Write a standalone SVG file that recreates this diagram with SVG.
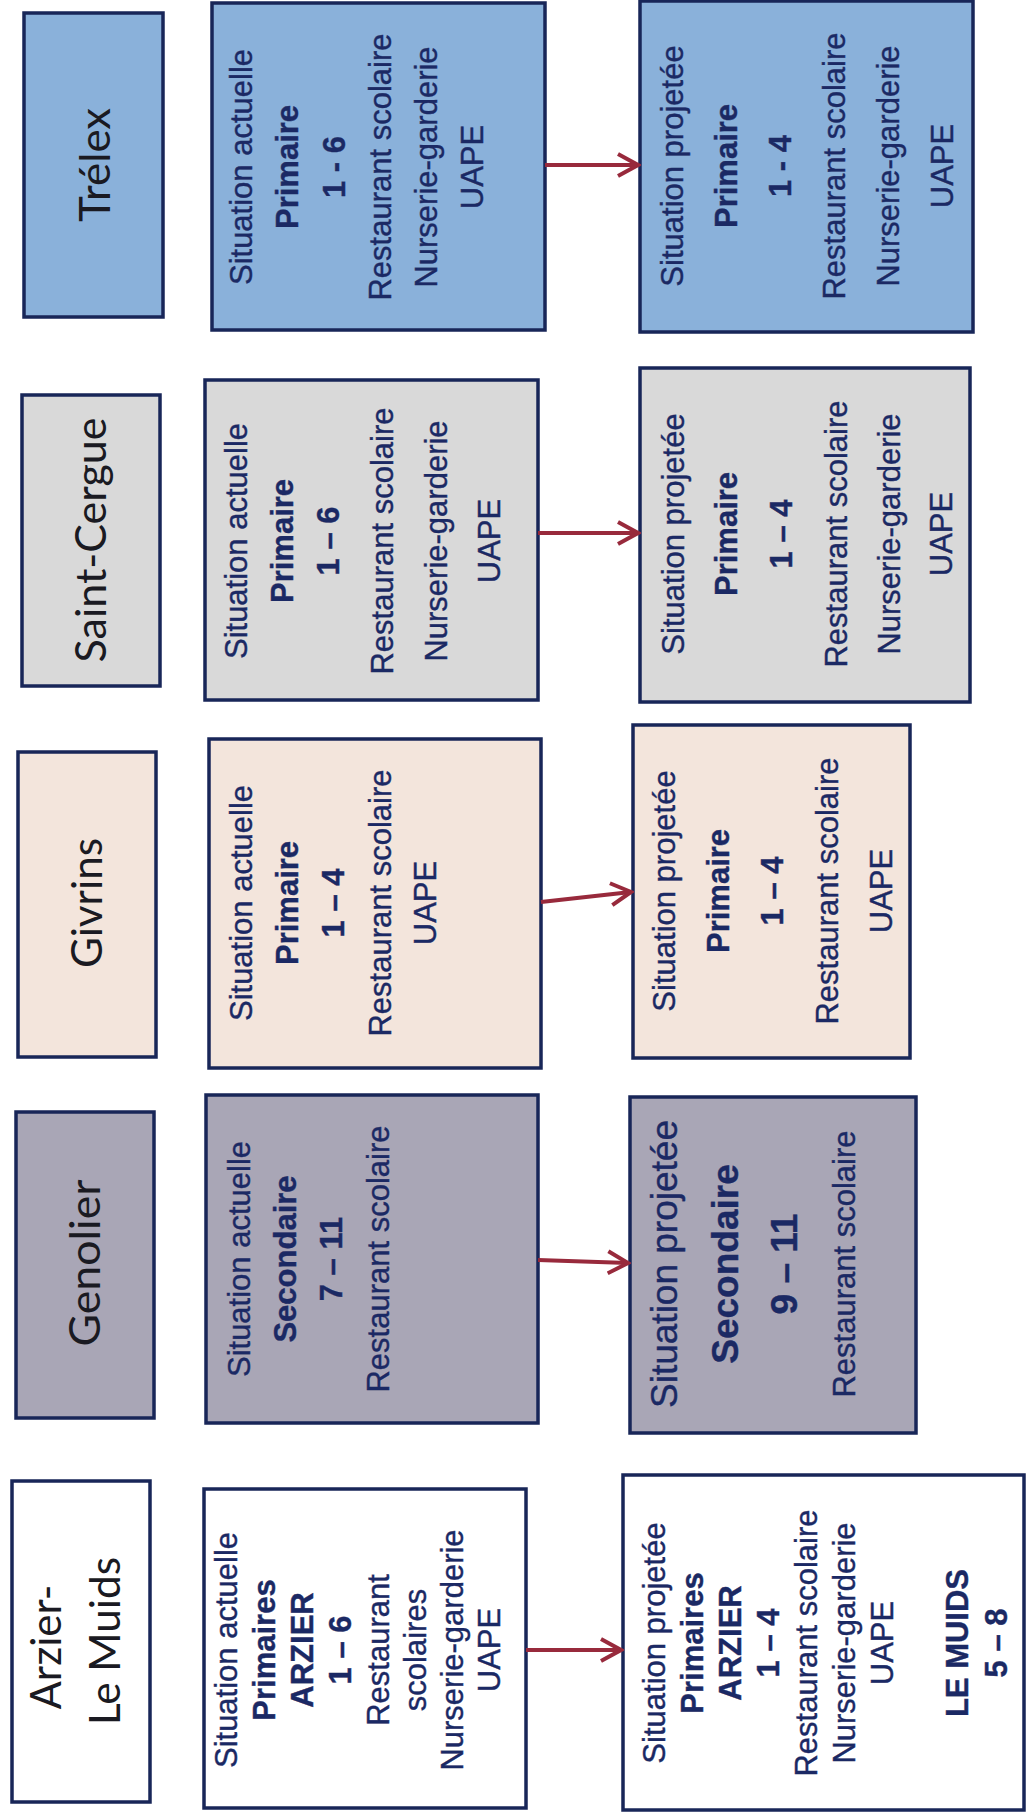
<svg xmlns="http://www.w3.org/2000/svg" width="1026" height="1814" viewBox="0 0 1026 1814">
  <defs>
    <style>
      .box { stroke: #182658; stroke-width: 3.5; }
      .trelex { fill: #8ab1da; }
      .cergue { fill: #d9d9d9; }
      .givrins { fill: #f3e5dc; }
      .genolier { fill: #a9a6b6; }
      .arzier { fill: #ffffff; }
      .hdr text { font-family: Lato, "Liberation Sans", sans-serif; font-size: 42px; fill: #1a1a22; text-anchor: middle; }
      .txt text { font-family: "Liberation Sans", Arial, sans-serif; font-size: 31px; fill: #1b2964; stroke: #1b2964; stroke-width: 0.4; text-anchor: middle; }
      .txt .b { font-weight: bold; }
      .txt .big { font-size: 37px; }
      .link { stroke: #982a3c; stroke-width: 4; fill: none; marker-end: url(#chevron); }
    </style>
    <marker id="chevron" viewBox="0 0 24 26" markerWidth="24" markerHeight="26" refX="21" refY="13" orient="auto" markerUnits="userSpaceOnUse">
      <path d="M1,2 L21,13 L1,24" fill="none" stroke="#982a3c" stroke-width="4" stroke-linejoin="miter"/>
    </marker>
  </defs>

  <rect width="1026" height="1814" fill="#ffffff"/>

  <!-- Trélex -->
  <g id="trelex-header" class="hdr">
    <rect class="box trelex" x="24" y="13" width="139" height="304"/>
    <g transform="translate(0,165) rotate(-90)"><text y="110" textLength="114" lengthAdjust="spacingAndGlyphs">Trélex</text></g>
  </g>
  <g id="trelex-actuelle" class="txt">
    <rect class="box trelex" x="212" y="3" width="333" height="327"/>
    <g transform="translate(0,167) rotate(-90)">
      <text y="252">Situation actuelle</text>
      <text y="298" class="b">Primaire</text>
      <text y="345" class="b">1 - 6</text>
      <text y="391">Restaurant scolaire</text>
      <text y="437">Nurserie-garderie</text>
      <text y="483">UAPE</text>
    </g>
  </g>
  <g id="trelex-projetee" class="txt">
    <rect class="box trelex" x="640" y="1" width="333" height="331"/>
    <g transform="translate(0,166) rotate(-90)">
      <text y="683">Situation projetée</text>
      <text y="737" class="b">Primaire</text>
      <text y="791" class="b">1 - 4</text>
      <text y="845">Restaurant scolaire</text>
      <text y="899">Nurserie-garderie</text>
      <text y="953">UAPE</text>
    </g>
  </g>

  <!-- Saint-Cergue -->
  <g id="cergue-header" class="hdr">
    <rect class="box cergue" x="22" y="395" width="138" height="291"/>
    <g transform="translate(0,540) rotate(-90)"><text y="106" textLength="245" lengthAdjust="spacingAndGlyphs">Saint-Cergue</text></g>
  </g>
  <g id="cergue-actuelle" class="txt">
    <rect class="box cergue" x="205" y="380" width="333" height="320"/>
    <g transform="translate(0,541) rotate(-90)">
      <text y="247">Situation actuelle</text>
      <text y="293" class="b">Primaire</text>
      <text y="339" class="b">1 – 6</text>
      <text y="393">Restaurant scolaire</text>
      <text y="447">Nurserie-garderie</text>
      <text y="500">UAPE</text>
    </g>
  </g>
  <g id="cergue-projetee" class="txt">
    <rect class="box cergue" x="640" y="368" width="330" height="334"/>
    <g transform="translate(0,534) rotate(-90)">
      <text y="684">Situation projetée</text>
      <text y="737" class="b">Primaire</text>
      <text y="792" class="b">1 – 4</text>
      <text y="847">Restaurant scolaire</text>
      <text y="900">Nurserie-garderie</text>
      <text y="952">UAPE</text>
    </g>
  </g>

  <!-- Givrins -->
  <g id="givrins-header" class="hdr">
    <rect class="box givrins" x="18" y="752" width="138" height="305"/>
    <g transform="translate(0,903) rotate(-90)"><text y="102" textLength="130" lengthAdjust="spacingAndGlyphs">Givrins</text></g>
  </g>
  <g id="givrins-actuelle" class="txt">
    <rect class="box givrins" x="209" y="739" width="332" height="329"/>
    <g transform="translate(0,903) rotate(-90)">
      <text y="252">Situation actuelle</text>
      <text y="298" class="b">Primaire</text>
      <text y="344" class="b">1 – 4</text>
      <text y="391">Restaurant scolaire</text>
      <text y="436">UAPE</text>
    </g>
  </g>
  <g id="givrins-projetee" class="txt">
    <rect class="box givrins" x="633" y="725" width="277" height="333"/>
    <g transform="translate(0,891) rotate(-90)">
      <text y="675">Situation projetée</text>
      <text y="729" class="b">Primaire</text>
      <text y="783" class="b">1 – 4</text>
      <text y="838">Restaurant scolaire</text>
      <text y="892">UAPE</text>
    </g>
  </g>

  <!-- Genolier -->
  <g id="genolier-header" class="hdr">
    <rect class="box genolier" x="16" y="1112" width="138" height="306"/>
    <g transform="translate(0,1263) rotate(-90)"><text y="100" textLength="167" lengthAdjust="spacingAndGlyphs">Genolier</text></g>
  </g>
  <g id="genolier-actuelle" class="txt">
    <rect class="box genolier" x="206" y="1095" width="332" height="328"/>
    <g transform="translate(0,1259) rotate(-90)">
      <text y="250">Situation actuelle</text>
      <text y="296" class="b">Secondaire</text>
      <text y="342" class="b">7 – 11</text>
      <text y="389">Restaurant scolaire</text>
    </g>
  </g>
  <g id="genolier-projetee" class="txt">
    <rect class="box genolier" x="630" y="1097" width="286" height="336"/>
    <g transform="translate(0,1264) rotate(-90)">
      <text y="677" class="big">Situation projetée</text>
      <text y="738" class="b big">Secondaire</text>
      <text y="797" class="b big">9 – 11</text>
      <text y="855">Restaurant scolaire</text>
    </g>
  </g>

  <!-- Arzier - Le Muids -->
  <g id="arzier-header" class="hdr">
    <rect class="box arzier" x="12" y="1481" width="138" height="321"/>
    <g transform="translate(0,1644) rotate(-90)">
      <text x="-3" y="61" textLength="125" lengthAdjust="spacingAndGlyphs">Arzier-</text>
      <text x="3" y="120" textLength="168" lengthAdjust="spacingAndGlyphs">Le Muids</text>
    </g>
  </g>
  <g id="arzier-actuelle" class="txt">
    <rect class="box arzier" x="204" y="1489" width="322" height="319"/>
    <g transform="translate(0,1650) rotate(-90)">
      <text y="237">Situation actuelle</text>
      <text y="275" class="b">Primaires</text>
      <text y="313" class="b">ARZIER</text>
      <text y="351" class="b">1 – 6</text>
      <text y="389">Restaurant</text>
      <text y="426">scolaires</text>
      <text y="463">Nurserie-garderie</text>
      <text y="500">UAPE</text>
    </g>
  </g>
  <g id="arzier-projetee" class="txt">
    <rect class="box arzier" x="623" y="1475" width="401" height="335"/>
    <g transform="translate(0,1643) rotate(-90)">
      <text y="665">Situation projetée</text>
      <text y="703" class="b">Primaires</text>
      <text y="741" class="b">ARZIER</text>
      <text y="779" class="b">1 – 4</text>
      <text y="817">Restaurant scolaire</text>
      <text y="855">Nurserie-garderie</text>
      <text y="893">UAPE</text>
      <text y="968" class="b">LE MUIDS</text>
      <text y="1007" class="b">5 – 8</text>
    </g>
  </g>

  <!-- Connectors: current situation to projected situation -->
  <g id="connectors">
    <line class="link" x1="545" y1="165" x2="638" y2="165"/>
    <line class="link" x1="538" y1="533" x2="638" y2="533"/>
    <line class="link" x1="541" y1="902" x2="631" y2="892"/>
    <line class="link" x1="538" y1="1260" x2="628" y2="1263"/>
    <line class="link" x1="526" y1="1650" x2="621" y2="1650"/>
  </g>
</svg>
